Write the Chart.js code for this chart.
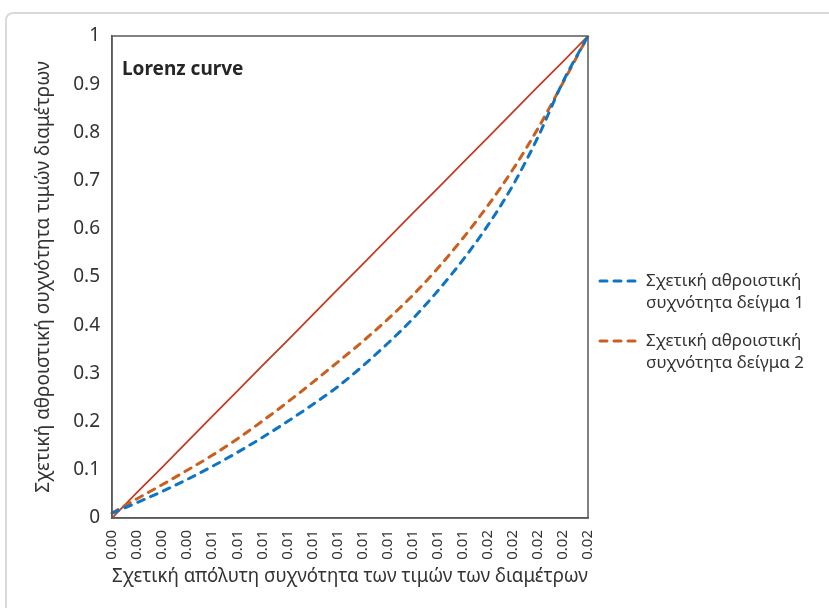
<!DOCTYPE html>
<html>
<head>
<meta charset="utf-8">
<script src="https://cdn.jsdelivr.net/npm/chart.js@4/dist/chart.umd.min.js"></script>
<style>
  html, body { margin: 0; padding: 0; background: #fff; overflow: hidden; }
  #frame {
    position: absolute; left: 5px; top: 12px; width: 900px; height: 700px;
    border: 2px solid #d9d9d9; border-radius: 8px; box-sizing: border-box;
  }
  #wrap { position: absolute; left: 0; top: 0; width: 829px; height: 608px; }
</style>
</head>
<body>
<div id="frame"></div>
<div id="wrap"><canvas id="c" width="829" height="608"></canvas></div>
<script>
// ── DATA ──────────────────────────────────────────────────────
const xLabels = ['0.00','0.00','0.00','0.00','0.01','0.01','0.01','0.01','0.01','0.01',
                 '0.01','0.01','0.01','0.01','0.01','0.02','0.02','0.02','0.02','0.02'];
const sample1 = [0.01, 0.032, 0.055, 0.08, 0.107, 0.136, 0.167, 0.2, 0.235, 0.272,
                 0.315, 0.362, 0.413, 0.471, 0.535, 0.607, 0.69, 0.79, 0.905, 1.0];
const sample2 = [0.01, 0.04, 0.069, 0.099, 0.13, 0.164, 0.201, 0.24, 0.281, 0.323,
                 0.366, 0.412, 0.462, 0.518, 0.58, 0.648, 0.723, 0.808, 0.903, 1.0];
const equality = [0, 0.053, 0.105, 0.158, 0.211, 0.263, 0.316, 0.368, 0.421, 0.474,
                  0.526, 0.579, 0.632, 0.684, 0.737, 0.789, 0.842, 0.895, 0.947, 1];
const seriesNames = [
  ['Σχετική αθροιστική', 'συχνότητα δείγμα 1'],
  ['Σχετική αθροιστική', 'συχνότητα δείγμα 2'],
];
const chartTitle = 'Lorenz curve';
const xTitle = 'Σχετική απόλυτη συχνότητα των τιμών των διαμέτρων';
const yTitle = 'Σχετική αθροιστική συχνότητα τιμών διαμέτρων';

const FONT = '"Noto Sans", "Open Sans", sans-serif';
const TXT = '#333333';
const BLUE = '#0F75C3';
const ORANGE = '#C9601E';
const RED = '#C23B22';

// ── PLUGIN: plot frame, inner title, legend ───────────────────
const decor = {
  id: 'decor',
  afterDraw(chart) {
    const { ctx, chartArea: a } = chart;
    ctx.save();
    ctx.strokeStyle = '#595959';
    ctx.lineWidth = 1.5;
    ctx.strokeRect(a.left, a.top, a.right - a.left, a.bottom - a.top);

    ctx.fillStyle = '#262626';
    ctx.font = 'bold 19px ' + FONT;
    ctx.textBaseline = 'middle';
    ctx.textAlign = 'left';
    ctx.fillText(chartTitle, a.left + 10, 70);

    const colors = [BLUE, ORANGE];
    const tops = [281, 341];
    ctx.font = '17px ' + FONT;
    ctx.fillStyle = TXT;
    seriesNames.forEach((lines, i) => {
      const y = tops[i];
      ctx.strokeStyle = colors[i];
      ctx.lineWidth = 3;
      ctx.lineCap = 'round';
      ctx.setLineDash([7, 7]);
      ctx.beginPath();
      ctx.moveTo(600, y);
      ctx.lineTo(637, y);
      ctx.stroke();
      ctx.setLineDash([]);
      lines.forEach((t, j) => ctx.fillText(t, 646, y + j * 22));
    });
    ctx.restore();
  }
};

const dashed = (label, data, color) => ({
  label, data,
  borderColor: color,
  borderWidth: 3,
  borderDash: [7, 7],
  borderCapStyle: 'round',
  pointRadius: 0,
  fill: false,
  tension: 0.4,
  cubicInterpolationMode: 'monotone',
});

new Chart(document.getElementById('c'), {
  type: 'line',
  data: {
    labels: xLabels,
    datasets: [
      dashed(seriesNames[0].join(' '), sample1, BLUE),
      dashed(seriesNames[1].join(' '), sample2, ORANGE),
      {
        label: 'equality',
        data: equality,
        borderColor: RED,
        borderWidth: 1.75,
        pointRadius: 0,
        fill: false,
        tension: 0,
      },
    ],
  },
  options: {
    responsive: false,
    animation: false,
    layout: { padding: { top: 36, right: 241, left: 0, bottom: 0 } },
    plugins: {
      legend: { display: false },
      tooltip: { enabled: false },
    },
    scales: {
      x: {
        offset: false,
        grid: { display: false, drawTicks: false },
        border: { display: true, color: '#595959', width: 1.5 },
        ticks: {
          autoSkip: false, minRotation: 90, maxRotation: 90,
          color: TXT, padding: 12,
          font: { family: FONT, size: 15 },
        },
        title: {
          display: true, text: xTitle, color: TXT,
          font: { family: FONT, size: 19 },
          padding: { top: 0, bottom: 20 },
        },
        afterFit(s) { s.height = 90; },
      },
      y: {
        min: 0, max: 1,
        grid: { display: false, drawTicks: false },
        border: { display: true, color: '#595959', width: 1.5 },
        ticks: {
          stepSize: 0.1, color: TXT, padding: 12,
          font: { family: FONT, size: 19 },
          callback: v => String(Math.round(v * 10) / 10),
        },
        title: {
          display: true, text: yTitle, color: TXT,
          font: { family: FONT, size: 19 },
          padding: { top: 32, bottom: 0 },
        },
        afterFit(s) { s.width = 112; },
      },
    },
  },
  plugins: [decor],
});
</script>
</body>
</html>
